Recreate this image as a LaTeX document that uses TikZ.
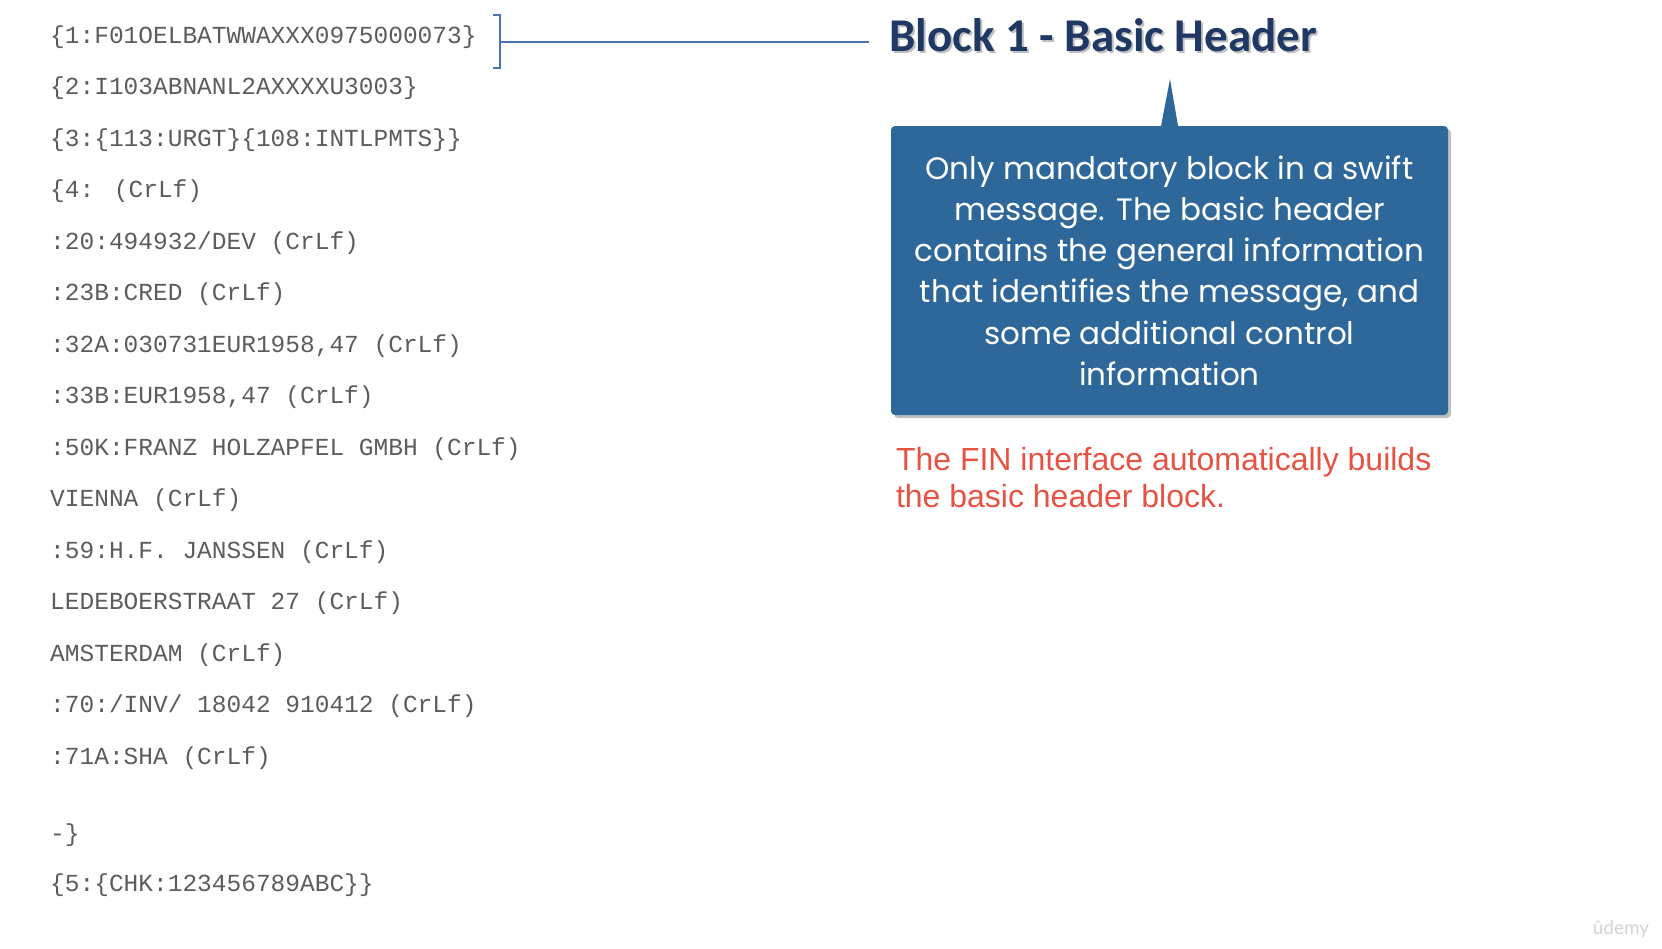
\documentclass[tikz,border=0pt]{standalone}
\usepackage{fontspec}
\usetikzlibrary{positioning,calc,shadows}
\newfontfamily\codefont{Liberation Mono}
\newfontfamily\headfont{Carlito}
\newfontfamily\notefont{Poppins}
\newfontfamily\finfont{Liberation Sans}
\newfontfamily\logofont{Lato}
\definecolor{codegray}{RGB}{92,92,92}
\definecolor{headnavy}{RGB}{31,56,100}
\definecolor{bracketblue}{RGB}{74,114,180}
\definecolor{noteblue}{RGB}{46,103,153}
\definecolor{finred}{RGB}{232,82,66}
\tikzset{
	codeline/.style={anchor=base west, inner sep=0pt, text=codegray, font=\codefont\fontsize{24.5}{24.5}\selectfont},
	headline/.style={anchor=base west, inner xsep=20pt, inner ysep=0pt, font=\headfont\bfseries\fontsize{47}{47}\selectfont},
	notebox/.style={rectangle, rounded corners=4pt, fill=noteblue, text=white, align=center, inner sep=0pt,
		minimum width=557pt, minimum height=289pt, font=\notefont\fontsize{31}{41.2}\selectfont,
		drop shadow={shadow xshift=3pt, shadow yshift=-3pt, opacity=0.25, fill=black}},
	fintext/.style={align=left, inner sep=0pt, text=finred, font=\finfont\fontsize{32}{37.3}\selectfont},
	bracket/.style={draw=bracketblue, line width=2.5pt},
}
\begin{document}
\begin{tikzpicture}[x=1pt, y=-1pt]
	\useasboundingbox (0,0) rectangle (1662,948);
	% message text
	\node[codeline] (f1) at (50,43.3) {\{1:F01OELBATWWAXXX0975000073\}};
	\node[codeline] (f2) at (50,94.8) {\{2:I103ABNANL2AXXXXU3003\}};
	\node[codeline] (f3) at (50,146.3) {\{3:\{113:URGT\}\{108:INTLPMTS\}\}};
	\node[codeline] (f4) at (50,197.8) {\{4: (CrLf)};
	\node[codeline] (f5) at (50,249.3) {:20:494932/DEV (CrLf)};
	\node[codeline] (f6) at (50,300.8) {:23B:CRED (CrLf)};
	\node[codeline] (f7) at (50,352.3) {:32A:030731EUR1958,47 (CrLf)};
	\node[codeline] (f8) at (50,403.8) {:33B:EUR1958,47 (CrLf)};
	\node[codeline] (f9) at (50,455.3) {:50K:FRANZ HOLZAPFEL GMBH (CrLf)};
	\node[codeline] (f10) at (50,506.8) {VIENNA (CrLf)};
	\node[codeline] (f11) at (50,558.3) {:59:H.F. JANSSEN (CrLf)};
	\node[codeline] (f12) at (50,609.8) {LEDEBOERSTRAAT 27 (CrLf)};
	\node[codeline] (f13) at (50,661.3) {AMSTERDAM (CrLf)};
	\node[codeline] (f14) at (50,712.8) {:70:/INV/ 18042 910412 (CrLf)};
	\node[codeline] (f15) at (50,764.3) {:71A:SHA (CrLf)};
	\node[codeline] (f16) at (50,841) {-\}};
	\node[codeline] (f17) at (50,891) {\{5:\{CHK:123456789ABC\}\}};
	% bracket and title
	\draw[bracket] (493,15) -- (500,15) -- (500,68) -- (493,68);
	\coordinate (bmid) at (500,42);
	\node[headline, text=black, opacity=0.25] (titleshadow) at (871,53.5) {Block 1 - Basic Header};
	\node[headline, text=headnavy] (title) at (869,51.5) {Block 1 - Basic Header};
	\draw[bracket, line width=2pt] (bmid) -- (bmid -| title.west);
	% callout
	\node[notebox] (note) at (1169.5,270.5) {Only mandatory block in a swift\\message. The basic header\\contains the general information\\that identifies the message, and\\some additional control\\information};
	\coordinate (tip) at (1170,79);
	\fill[noteblue] ([xshift=-9pt, yshift=-3pt]note.north) -- (tip) -- ([xshift=9pt, yshift=-3pt]note.north) -- cycle;
	\node[fintext, below right=32pt and 5pt of note.south west] (fin) {The FIN interface automatically builds\\the basic header block.};
	\node[text=gray!35, inner sep=0pt, font=\logofont\fontsize{19}{19}\selectfont] (logo) at (1621,929) {ûdemy};
\end{tikzpicture}
\end{document}
